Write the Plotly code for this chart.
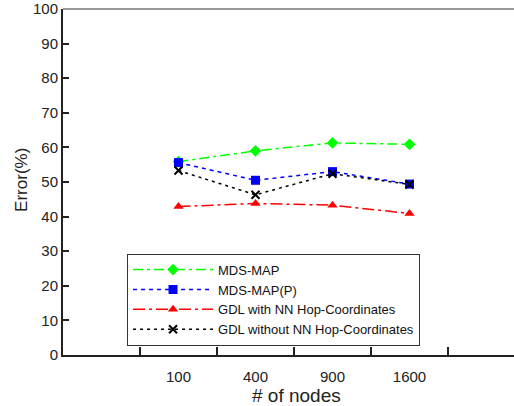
import plotly.graph_objects as go

categories = ["100", "400", "900", "1600"]
mds_map = [55.9, 59.0, 61.3, 60.9]
mds_map_p = [55.6, 50.5, 53.0, 49.4]
gdl_with = [42.9, 43.8, 43.3, 40.9]
gdl_without = [53.3, 46.3, 52.4, 49.3]

xpos = [1.5, 2.5, 3.5, 4.5]
font = "Liberation Sans, Arial, sans-serif"

fig = go.Figure()
fig.add_trace(go.Scatter(x=xpos, y=mds_map, name="MDS-MAP", mode="lines+markers",
                         line=dict(color="#00ff00", width=1.5, dash="10px,4px,3px,4px"),
                         marker=dict(symbol="diamond", size=9, color="#00ff00")))
fig.add_trace(go.Scatter(x=xpos, y=mds_map_p, name="MDS-MAP(P)", mode="lines+markers",
                         line=dict(color="#0000ff", width=1.5, dash="4px,4px"),
                         marker=dict(symbol="square", size=9, color="#0000ff")))
fig.add_trace(go.Scatter(x=xpos, y=gdl_with, name="GDL with NN Hop-Coordinates", mode="lines+markers",
                         line=dict(color="#ff0000", width=1.5, dash="12px,4px,3px,4px"),
                         marker=dict(symbol="triangle-up", size=9, color="#ff0000")))
fig.add_trace(go.Scatter(x=xpos, y=gdl_without, name="GDL without NN Hop-Coordinates", mode="lines+markers",
                         line=dict(color="#000000", width=1.5, dash="3px,4px"),
                         marker=dict(symbol="x-thin", size=8, color="#000000",
                                     line=dict(color="#000000", width=2))))

fig.update_layout(
    width=514, height=406,
    margin=dict(l=63, r=0, t=9, b=51, autoexpand=False),
    paper_bgcolor="white", plot_bgcolor="white",
    font=dict(family=font, color="#222", size=14),
    showlegend=True,
    legend=dict(x=0.142, y=0.293, xanchor="left", yanchor="top",
                bordercolor="#333", borderwidth=1, bgcolor="white",
                font=dict(size=13, family=font, color="#111"),
                itemwidth=80, tracegroupgap=0),
    xaxis=dict(range=[0, 5.857], tickvals=xpos, ticktext=categories,
               ticks="", showgrid=False, zeroline=False,
               showline=True, linecolor="#222", linewidth=2,
               tickfont=dict(size=15), ticklabelstandoff=7,
               minor=dict(tickvals=[1, 2, 3, 4, 5], ticks="inside", ticklen=8,
                          tickcolor="#222", tickwidth=1.5, showgrid=False)),
    yaxis=dict(range=[0, 100], tickvals=list(range(0, 101, 10)),
               ticks="inside", ticklen=6, tickcolor="#222", tickwidth=1.5,
               showgrid=False, zeroline=False, ticklabeloverflow="allow",
               showline=True, linecolor="#222", linewidth=2,
               tickfont=dict(size=15)),
    annotations=[
        dict(text="# of nodes", xref="paper", yref="paper", x=0.517, y=-0.118,
             xanchor="center", yanchor="middle", showarrow=False,
             font=dict(size=19, family=font, color="#222")),
        dict(text="Error(%)", xref="paper", yref="paper", x=-0.091, y=0.506,
             xanchor="center", yanchor="middle", showarrow=False, textangle=-90,
             font=dict(size=17, family=font, color="#222")),
    ],
)
fig.add_shape(type="line", xref="paper", yref="paper", x0=0, x1=1, y0=1, y1=1,
              line=dict(color="#999", width=2))

fig.write_html("out.html")
